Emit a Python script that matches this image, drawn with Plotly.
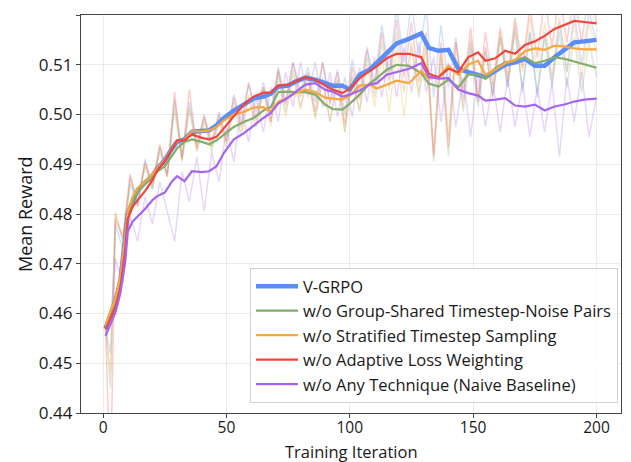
import plotly.graph_objects as go

# ---------------- data ----------------
iters = [1, 3, 5, 7, 9, 10, 12, 14, 17, 20, 22, 25, 28, 30, 33, 36, 40, 43, 46, 49,
         53, 57, 61, 65, 68, 71, 75, 78, 82, 86, 90, 93, 97, 100, 104, 108, 111, 115, 119, 124,
         129, 132, 136, 140, 144, 148, 152, 155, 159, 163, 167, 171, 175, 179, 183, 187, 191, 195, 200]

vgrpo = [0.4570, 0.4600, 0.4625, 0.4665, 0.4745, 0.4800, 0.4825, 0.4848, 0.4863, 0.4877,
         0.4892, 0.4908, 0.4932, 0.4945, 0.4950, 0.4965, 0.4967, 0.4968, 0.4978, 0.4993,
         0.5008, 0.5020, 0.5032, 0.5036, 0.5042, 0.5056, 0.5058, 0.5066, 0.5074, 0.5070,
         0.5063, 0.5058, 0.5058, 0.5050, 0.5080, 0.5090, 0.5104, 0.5125, 0.5143, 0.5152,
         0.5163, 0.5134, 0.5128, 0.5130, 0.5092, 0.5085, 0.5078, 0.5075, 0.5088, 0.5100,
         0.5105, 0.5112, 0.5098, 0.5098, 0.5115, 0.5130, 0.5145, 0.5147, 0.5150]

no_shared = [0.4575, 0.4600, 0.4625, 0.4670, 0.4745, 0.4795, 0.4825, 0.4845, 0.4860, 0.4875,
             0.4885, 0.4896, 0.4919, 0.4932, 0.4945, 0.4950, 0.4945, 0.4940, 0.4948, 0.4960,
             0.4975, 0.4985, 0.4993, 0.5008, 0.5015, 0.5045, 0.5046, 0.5045, 0.5045, 0.5040,
             0.5020, 0.5011, 0.5010, 0.5022, 0.5040, 0.5062, 0.5073, 0.5090, 0.5100, 0.5098,
             0.5083, 0.5062, 0.5056, 0.5070, 0.5055, 0.5080, 0.5080, 0.5072, 0.5093, 0.5105,
             0.5108, 0.5115, 0.5103, 0.5108, 0.5115, 0.5112, 0.5106, 0.5100, 0.5094]

no_strat = [0.4575, 0.4605, 0.4630, 0.4675, 0.4755, 0.4805, 0.4835, 0.4852, 0.4865, 0.4880,
            0.4893, 0.4908, 0.4933, 0.4946, 0.4950, 0.4966, 0.4966, 0.4968, 0.4975, 0.4988,
            0.5000, 0.5005, 0.5014, 0.5015, 0.5006, 0.5026, 0.5034, 0.5043, 0.5050, 0.5045,
            0.5034, 0.5032, 0.5030, 0.5038, 0.5058, 0.5060, 0.5052, 0.5060, 0.5068, 0.5063,
            0.5088, 0.5072, 0.5075, 0.5098, 0.5080, 0.5100, 0.5108, 0.5080, 0.5090, 0.5103,
            0.5110, 0.5127, 0.5133, 0.5130, 0.5138, 0.5137, 0.5133, 0.5131, 0.5131]

no_adapt = [0.4568, 0.4590, 0.4612, 0.4650, 0.4730, 0.4790, 0.4815, 0.4828, 0.4846, 0.4868,
            0.4888, 0.4906, 0.4932, 0.4948, 0.4948, 0.4960, 0.4953, 0.4950, 0.4955, 0.4973,
            0.4998, 0.5020, 0.5036, 0.5044, 0.5044, 0.5058, 0.5060, 0.5066, 0.5075, 0.5070,
            0.5058, 0.5050, 0.5043, 0.5052, 0.5073, 0.5086, 0.5097, 0.5113, 0.5122, 0.5122,
            0.5115, 0.5082, 0.5075, 0.5092, 0.5085, 0.5115, 0.5125, 0.5108, 0.5113, 0.5128,
            0.5122, 0.5140, 0.5147, 0.5158, 0.5172, 0.5180, 0.5188, 0.5186, 0.5183]

naive = [0.4555, 0.4580, 0.4602, 0.4640, 0.4705, 0.4765, 0.4785, 0.4795, 0.4810, 0.4828,
         0.4836, 0.4843, 0.4866, 0.4876, 0.4866, 0.4886, 0.4884, 0.4886, 0.4896, 0.4923,
         0.4950, 0.4962, 0.4978, 0.4993, 0.5003, 0.5022, 0.5034, 0.5045, 0.5060, 0.5063,
         0.5050, 0.5046, 0.5036, 0.5040, 0.5048, 0.5060, 0.5063, 0.5080, 0.5086, 0.5092,
         0.5103, 0.5076, 0.5072, 0.5073, 0.5050, 0.5043, 0.5038, 0.5028, 0.5030, 0.5033,
         0.5018, 0.5016, 0.5020, 0.5008, 0.5016, 0.5020, 0.5026, 0.5030, 0.5032]

# raw (unsmoothed) rewards, drawn faintly
raw_iters = [1, 3, 5, 8, 11, 14, 17, 20, 23, 26, 29, 32, 35, 38, 41, 44, 47, 50, 53, 56,
             59, 62, 65, 68, 71, 74, 77, 80, 83, 86, 89, 92, 95, 98, 101, 104, 107, 110, 113, 116,
             119, 122, 125, 128, 131, 134, 137, 140, 143, 146, 149, 152, 155, 158, 161, 164, 167, 170, 173, 176,
             179, 182, 185, 188, 191, 194, 197, 200]

vgrpo_raw = [0.457, 0.452, 0.478, 0.473, 0.487, 0.482, 0.491, 0.485, 0.4935, 0.488,
             0.503, 0.4915, 0.5025, 0.494, 0.500, 0.4945, 0.5005, 0.4955, 0.504, 0.4985,
             0.506, 0.5005, 0.5065, 0.500, 0.5095, 0.5025, 0.5105, 0.5045, 0.5095, 0.5025,
             0.5105, 0.5025, 0.509, 0.500, 0.511, 0.5045, 0.5135, 0.5065, 0.518, 0.5085,
             0.5215, 0.5105, 0.5225, 0.5115, 0.5215, 0.5035, 0.518, 0.5055, 0.5155, 0.503,
             0.5145, 0.5025, 0.5135, 0.5035, 0.5155, 0.5055, 0.5175, 0.5045, 0.5165, 0.5035,
             0.5165, 0.5065, 0.5185, 0.5085, 0.5205, 0.510, 0.5205, 0.5145]

no_shared_raw = [0.4575, 0.445, 0.480, 0.4745, 0.486, 0.4815, 0.4895, 0.485, 0.4925, 0.4875,
                 0.501, 0.4905, 0.501, 0.4925, 0.4985, 0.4925, 0.4985, 0.4935, 0.5015, 0.4955,
                 0.5035, 0.4975, 0.5055, 0.4985, 0.5085, 0.5005, 0.509, 0.5015, 0.508, 0.4995,
                 0.5075, 0.4985, 0.507, 0.4965, 0.508, 0.5005, 0.5115, 0.5035, 0.5145, 0.505,
                 0.5165, 0.5045, 0.5145, 0.5035, 0.5135, 0.4905, 0.5115, 0.4915, 0.5115, 0.5005,
                 0.5135, 0.5015, 0.5125, 0.504, 0.5155, 0.5055, 0.5165, 0.5055, 0.5165, 0.5045,
                 0.5155, 0.5055, 0.5165, 0.5055, 0.5155, 0.5045, 0.5145, 0.5075]

no_strat_raw = [0.4575, 0.448, 0.4805, 0.475, 0.4875, 0.4825, 0.490, 0.4855, 0.4935, 0.488,
                0.5025, 0.491, 0.5015, 0.4935, 0.4995, 0.4935, 0.4995, 0.4945, 0.5025, 0.4965,
                0.504, 0.4975, 0.505, 0.4975, 0.5075, 0.4995, 0.508, 0.501, 0.5075, 0.499,
                0.507, 0.4985, 0.507, 0.4965, 0.5075, 0.501, 0.510, 0.5015, 0.5115, 0.5005,
                0.5135, 0.4995, 0.5135, 0.5045, 0.5145, 0.4925, 0.5135, 0.4955, 0.5145, 0.5015,
                0.5155, 0.5025, 0.5135, 0.5035, 0.5165, 0.5065, 0.5185, 0.5085, 0.5195, 0.5085,
                0.5185, 0.5075, 0.5195, 0.5085, 0.5185, 0.5075, 0.5185, 0.5125]

no_adapt_raw = [0.457, 0.425, 0.479, 0.4755, 0.488, 0.4815, 0.4905, 0.486, 0.494, 0.4875,
                0.5045, 0.491, 0.505, 0.493, 0.4995, 0.4935, 0.500, 0.4945, 0.5035, 0.4975,
                0.5065, 0.499, 0.5055, 0.4985, 0.509, 0.502, 0.5105, 0.5035, 0.5085, 0.5005,
                0.5105, 0.502, 0.5085, 0.498, 0.5095, 0.503, 0.513, 0.505, 0.5165, 0.507,
                0.519, 0.5075, 0.5185, 0.5065, 0.5165, 0.4915, 0.5145, 0.4935, 0.5145, 0.5045,
                0.5175, 0.5035, 0.5165, 0.506, 0.5175, 0.5075, 0.5195, 0.5095, 0.5215, 0.5115,
                0.5235, 0.5135, 0.5245, 0.5145, 0.5245, 0.5145, 0.5245, 0.5185]

naive_raw = [0.4555, 0.458, 0.471, 0.466, 0.4795, 0.4745, 0.4835, 0.478, 0.4865, 0.4805,
             0.4745, 0.4885, 0.4825, 0.4915, 0.4805, 0.4925, 0.4865, 0.4975, 0.4905, 0.5015,
             0.4945, 0.5035, 0.4965, 0.5055, 0.4985, 0.5085, 0.5015, 0.5105, 0.5035, 0.5105,
             0.5015, 0.5085, 0.4995, 0.5075, 0.4995, 0.5095, 0.5025, 0.5115, 0.5035, 0.5125,
             0.5035, 0.5135, 0.5045, 0.5145, 0.5045, 0.5115, 0.4985, 0.5105, 0.4975, 0.5075,
             0.4955, 0.5085, 0.4975, 0.5065, 0.4965, 0.5075, 0.4975, 0.5065, 0.4955, 0.5055,
             0.4965, 0.5065, 0.4915, 0.5075, 0.4985, 0.5085, 0.4955, 0.5035]

names = ["V-GRPO",
         "w/o Group-Shared Timestep-Noise Pairs",
         "w/o Stratified Timestep Sampling",
         "w/o Adaptive Loss Weighting",
         "w/o Any Technique (Naive Baseline)"]
smooth_series = [vgrpo, no_shared, no_strat, no_adapt, naive]
raw_series = [vgrpo_raw, no_shared_raw, no_strat_raw, no_adapt_raw, naive_raw]
colors = ["#5B8DF6", "#82AD6A", "#F9A63A", "#F4433B", "#A466F2"]
widths = [4.5, 2.2, 2.2, 2.2, 2.2]

x_ticks = [0, 50, 100, 150, 200]
y_ticks = [0.44, 0.45, 0.46, 0.47, 0.48, 0.49, 0.50, 0.51, 0.52]
x_title = "Training Iteration"
y_title = "Mean Reward"

# ---------------- figure ----------------
fig = go.Figure()

for raw, col, name in zip(raw_series, colors, names):
    fig.add_trace(go.Scatter(
        x=raw_iters, y=raw, mode="lines",
        line=dict(color=col, width=1.5),
        opacity=0.25, showlegend=False, hoverinfo="skip", legendgroup=name,
    ))

for ys, col, w, name in zip(smooth_series, colors, widths, names):
    fig.add_trace(go.Scatter(
        x=iters, y=ys, mode="lines", name=name,
        line=dict(color=col, width=w), legendgroup=name,
    ))

font_family = "'Open Sans', Lato, sans-serif"

fig.update_layout(
    width=623, height=454,
    margin=dict(l=73, r=10, t=7, b=49),
    paper_bgcolor="white", plot_bgcolor="white",
    font=dict(family=font_family, size=16, color="#1a1a1a"),
    legend=dict(
        x=0.9944, y=0.025, xanchor="right", yanchor="bottom",
        bgcolor="rgba(255,255,255,0.85)", bordercolor="#d0d0d0", borderwidth=1,
        font=dict(size=16.5, color="#1a1a1a"), tracegroupgap=0, itemwidth=42,
    ),
    showlegend=True,
    annotations=[
        dict(text=x_title, xref="paper", yref="paper", x=0.5, y=0,
             xanchor="center", yanchor="middle", yshift=-38, showarrow=False,
             font=dict(size=16.5)),
        dict(text=y_title, xref="paper", yref="paper", x=0, y=0.5,
             xanchor="center", yanchor="middle", xshift=-56, textangle=-90,
             showarrow=False, font=dict(size=18)),
    ],
)

fig.update_xaxes(
    range=[-8.95, 209.95], tickvals=x_ticks,
    showgrid=True, gridcolor="#ebebeb", gridwidth=1, zeroline=False,
    showline=True, linecolor="#444", linewidth=1.2, mirror=True,
    ticks="outside", ticklen=4, tickcolor="#444", automargin=False,
    tickfont=dict(size=15.5), ticklabelstandoff=-4,
)
fig.update_yaxes(
    range=[0.44, 0.52], tickvals=y_ticks, tickformat=".2f",
    showgrid=True, gridcolor="#ebebeb", gridwidth=1, zeroline=False,
    showline=True, linecolor="#444", linewidth=1.2, mirror=True,
    ticks="outside", ticklen=4, tickcolor="#444", automargin=False,
    tickfont=dict(size=17),
)

fig.write_html("out.html")
